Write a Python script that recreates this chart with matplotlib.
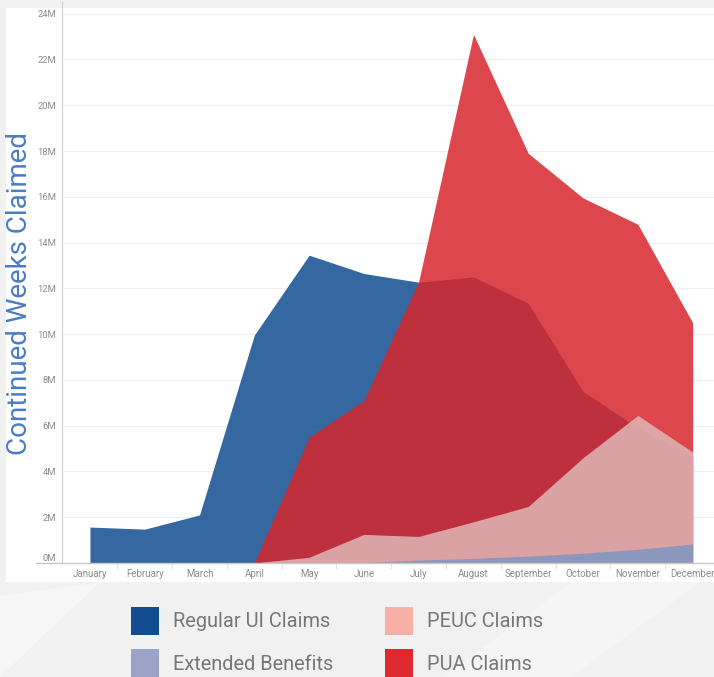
import matplotlib.pyplot as plt
from matplotlib.patches import Rectangle, Polygon, Patch
import numpy as np

plt.rcParams['font.family'] = ['Roboto', 'DejaVu Sans']

months = ["January", "February", "March", "April", "May", "June", "July",
          "August", "September", "October", "November", "December"]

# continued weeks claimed, millions (None = no data for that month)
regular_ui = [1.57, 1.48, 2.1, 9.96, 13.45, 12.65, 12.27, 12.5, 11.35, 7.5, 5.9, 4.67]
pua = [None, None, None, 0.0, 5.5, 7.1, 12.3, 23.1, 17.9, 15.95, 14.8, 10.5]
peuc = [None, None, None, 0.0, 0.25, 1.25, 1.16, 1.8, 2.47, 4.6, 6.45, 4.85]
extended = [None, None, None, None, None, 0.02, 0.13, 0.2, 0.3, 0.43, 0.6, 0.83]

yticks = list(range(0, 25, 2))

# series: (label, values, area colour, legend colour)
series = [
    ("Regular UI Claims", regular_ui, "#124E8F", "#124E8F"),
    ("PUA Claims", pua, "#D8262D", "#DC2A30"),
    ("PEUC Claims", peuc, "#DFB7B4", "#F7B0A5"),
    ("Extended Benefits", extended, "#7E96C2", "#9CA3C8"),
]

fig = plt.figure(figsize=(7.14, 6.77), dpi=100)
fig.patch.set_facecolor("#F1F1F1")

# soft diagonal shapes in the background
fig.patches.append(Polygon([(0, 0), (0.0, 0.12), (0.14, 0.14), (0.0, 0.0)],
                           closed=True, transform=fig.transFigure,
                           facecolor="#F6F6F6", edgecolor="none", zorder=0))
fig.patches.append(Polygon([(0.62, 0), (0.80, 0.14), (0.98, 0.14), (0.80, 0.0)],
                           closed=True, transform=fig.transFigure,
                           facecolor="#F5F5F5", edgecolor="none", zorder=0))

# white chart panel
fig.patches.append(Rectangle((6 / 714, 1 - 582 / 677), 1 - 6 / 714, 574 / 677,
                             transform=fig.transFigure, facecolor="white",
                             edgecolor="none", zorder=0.5))

ax = fig.add_axes([62 / 714, 1 - 563 / 677, 1 - 62 / 714, (563 - 8) / 677])
ax.set_facecolor("none")
ax.set_zorder(2)

x = np.arange(len(months))
for label, vals, color, _ in series:
    xs = [i for i, v in zip(x, vals) if v is not None]
    ys = [v for v in vals if v is not None]
    ax.fill_between(xs, 0, ys, color=color, alpha=0.85, linewidth=0, zorder=2)

ax.set_xlim(-0.51, 11.39)
ax.set_ylim(0, 24.25)

ax.set_yticks(yticks)
ax.set_yticklabels([f"{v}M" for v in yticks])
ax.set_xticks(x)
ax.set_xticklabels(months)
ax.set_xticks(x[:-1] + 0.5, minor=True)

ax.tick_params(axis="y", length=0, pad=4, labelsize=6.8, labelcolor="#8C8C8C")
ax.tick_params(axis="x", which="major", length=0, pad=4, labelsize=7.0,
               labelcolor="#8C8C8C")
ax.tick_params(axis="x", which="minor", length=4, width=0.7, color="#E3E3E3")
ax.get_yticklabels()[0].set_va("bottom")

ax.grid(axis="y", color="#EFEFEF", linewidth=0.8, zorder=0)
ax.set_axisbelow(True)
for side in ["top", "right", "bottom"]:
    ax.spines[side].set_visible(False)
ax.spines["left"].set_color("#CFCFCF")
ax.spines["left"].set_linewidth(0.8)
ax.spines["left"].set_bounds(0, 24.5)

# bottom rule reaching left of the y axis
ax.plot([-0.04, 1.0], [0, 0], transform=ax.transAxes, color="#C8C8C8",
        linewidth=1.0, clip_on=False, zorder=3)

fig.text(20 / 714, 1 - 293 / 677, "Continued Weeks Claimed", rotation=90,
         ha="center", va="center", fontsize=20, color="#4A7BC6", zorder=3)

handles = [Patch(facecolor=series[0][3]), Patch(facecolor=series[3][3]),
           Patch(facecolor=series[2][3]), Patch(facecolor=series[1][3])]
labels = [series[0][0], series[3][0], series[2][0], series[1][0]]
fig.legend(handles, labels, loc="upper left",
           bbox_to_anchor=(131 / 714, 1 - 607 / 677), ncol=2, frameon=False,
           fontsize=14.4, labelcolor="#777777", handlelength=1.4,
           handleheight=1.78, handletextpad=0.7, labelspacing=0.7,
           columnspacing=2.6, borderpad=0, borderaxespad=0)

fig.savefig("out.png", dpi=100, facecolor=fig.get_facecolor())
